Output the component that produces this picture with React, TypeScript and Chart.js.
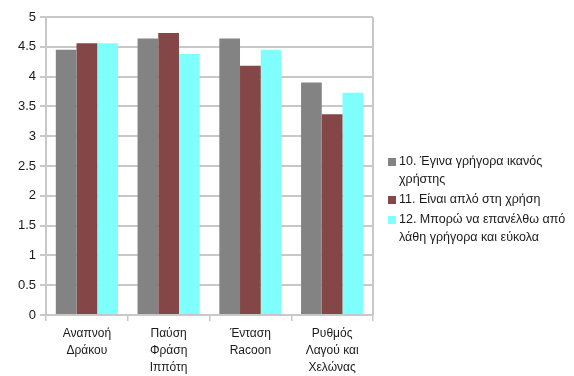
import React, { useEffect, useRef } from "react";
import { Chart, registerables } from "chart.js";

Chart.register(...registerables);

const categories: string[][] = [
  ["Αναπνοή", "Δράκου"],
  ["Παύση", "Φράση", "Ιππότη"],
  ["Ένταση", "Racoon"],
  ["Ρυθμός", "Λαγού και", "Χελώνας"],
];

const seriesNames: string[][] = [
  ["10. Έγινα γρήγορα ικανός", "χρήστης"],
  ["11. Είναι απλό στη χρήση"],
  ["12. Μπορώ να επανέλθω από", "λάθη γρήγορα και εύκολα"],
];

const series10 = [4.45, 4.64, 4.64, 3.9];
const series11 = [4.56, 4.73, 4.18, 3.37];
const series12 = [4.56, 4.38, 4.45, 3.73];

const colors = ["#838383", "#844646", "#80ffff"];
const FONT = "'Liberation Sans', Arial, sans-serif";

const sideLegend = {
  id: "sideLegend",
  afterDraw(chart: any) {
    const ctx = chart.ctx;
    const area = chart.chartArea;
    ctx.save();
    ctx.strokeStyle = "#c8c8c8";
    ctx.lineWidth = 2;
    ctx.beginPath();
    ctx.moveTo(area.right, area.top);
    ctx.lineTo(area.right, area.bottom);
    ctx.stroke();

    ctx.font = "12.5px " + FONT;
    ctx.textBaseline = "middle";
    ctx.textAlign = "left";
    const x0 = 388;
    let y = 162;
    seriesNames.forEach((lines, i) => {
      ctx.fillStyle = colors[i];
      ctx.fillRect(x0, y - 4, 8, 8);
      ctx.fillStyle = "#1a1a1a";
      lines.forEach((line, j) => {
        ctx.fillText(line, x0 + 11, y + j * 18);
      });
      y += (lines.length - 1) * 18 + 20;
    });
    ctx.restore();
  },
};

export default function App() {
  const ref = useRef<HTMLCanvasElement>(null);
  useEffect(() => {
    if (!ref.current) return;
    const chart = new Chart(ref.current, {
      type: "bar",
      data: {
        labels: categories,
        datasets: [series10, series11, series12].map((d, i) => ({
          label: seriesNames[i].join(" "),
          data: d,
          backgroundColor: colors[i],
          borderWidth: 0,
          barPercentage: 1,
          categoryPercentage: 0.76,
        })),
      },
      options: {
        animation: false,
        responsive: true,
        maintainAspectRatio: false,
        layout: { padding: { left: 0, right: 201, top: 17, bottom: 0 } },
        plugins: {
          legend: { display: false },
          tooltip: { enabled: false },
        },
        scales: {
          x: {
            grid: {
              offset: true,
              drawOnChartArea: false,
              drawTicks: true,
              tickLength: 6,
              color: "#c8c8c8",
              lineWidth: 1.5,
            },
            border: { color: "#c8c8c8", width: 2 },
            ticks: {
              color: "#1a1a1a",
              font: { family: FONT, size: 12, lineHeight: 1.42 },
              maxRotation: 0,
              autoSkip: false,
              padding: 4,
            },
            afterFit(scale: any) {
              scale.height = 61;
            },
          },
          y: {
            min: 0,
            max: 5,
            ticks: {
              stepSize: 0.5,
              color: "#1a1a1a",
              font: { family: FONT, size: 13 },
              padding: 4,
              callback: (v: any) => String(Number(v)),
            },
            grid: {
              color: "#c8c8c8",
              lineWidth: 2,
              tickLength: 6,
            },
            border: { color: "#c8c8c8", width: 2 },
            afterFit(scale: any) {
              scale.width = 46;
            },
          },
        },
      },
      plugins: [sideLegend],
    });
    return () => chart.destroy();
  }, []);
  return (
    <div style={{ position: "absolute", left: 0, top: 0, width: 574, height: 376, background: "#fff" }}>
      <canvas ref={ref} />
    </div>
  );
}
